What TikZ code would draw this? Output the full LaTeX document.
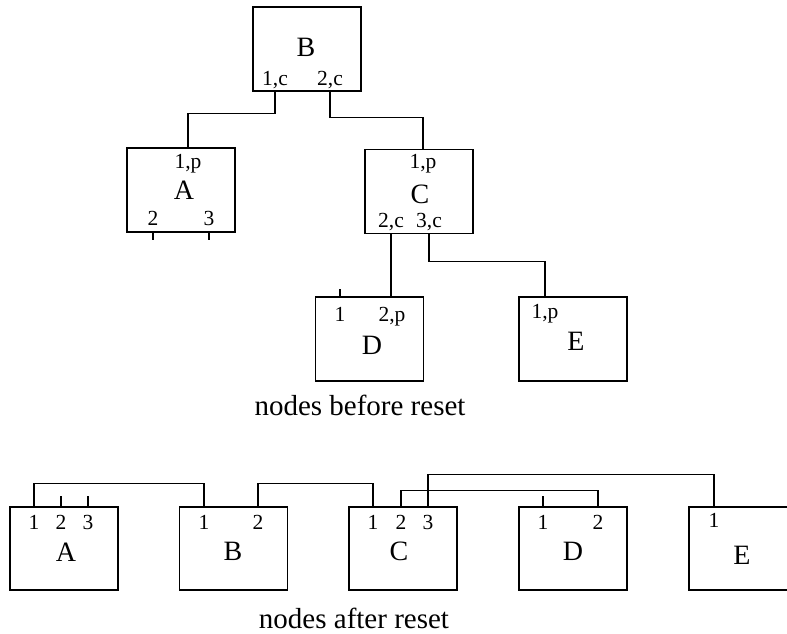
\documentclass[tikz,border=0pt]{standalone}
\usepackage{fontspec}
\setmainfont{Liberation Serif}
\begin{document}
\begin{tikzpicture}[x=1pt,y=-1pt,
  box/.style={draw,line width=1.4pt,minimum width=108pt,minimum height=84pt,inner sep=0pt},
  big/.style={anchor=base,inner sep=0pt,font=\fontsize{28}{28}\selectfont},
  small/.style={anchor=base,inner sep=0pt,font=\fontsize{21.5}{21.5}\selectfont},
  caption/.style={anchor=base,inner sep=0pt,font=\fontsize{29}{29}\selectfont},
  wire/.style={line width=1.4pt}]
\useasboundingbox (0,0) rectangle (787,634);
\clip (0,0) rectangle (787,634);
\fill[white] (0,0) rectangle (787,634);

% ---- tree before reset ----
\node[box] (tB) at (307,49) {};
\node[big] at (306,57) {B};
\node[small] (tB1) at (275,85) {1,c};
\node[small] (tB2) at (330,85) {2,c};

\node[box] (tA) at (181,190) {};
\node[big] at (184,199) {A};
\node[small] (tA1) at (188,168) {1,p};
\node[small] (tA2) at (153,225) {2};
\node[small] (tA3) at (209,225) {3};

\node[box] (tC) at (419,191.5) {};
\node[big] at (420,203) {C};
\node[small] (tC1) at (423,168) {1,p};
\node[small] (tC2) at (391,227) {2,c};
\node[small] (tC3) at (429,227) {3,c};

\node[box] (tD) at (369.5,339) {};
\node[big] at (372,354) {D};
\node[small] (tD1) at (340,321) {1};
\node[small] (tD2) at (392,321) {2,p};

\node[box] (tE) at (573,339) {};
\node[big] at (576,350) {E};
\node[small] (tE1) at (545,318) {1,p};

\node[caption] (cap1) at (360,415) {nodes before reset};

\draw[wire] (tB1 |- tB.south) -- ++(0,22) -| (tA1 |- tA.north);
\draw[wire] (tB2 |- tB.south) -- ++(0,26) -| (tC1 |- tC.north);
\draw[wire] (tC2 |- tC.south) -- (tC2 |- tD.north);
\draw[wire] (tC3 |- tC.south) -- ++(0,27) -| (tE1 |- tE.north);
\draw[wire] (tA2 |- tA.south) -- ++(0,7);
\draw[wire] (tA3 |- tA.south) -- ++(0,7);
\draw[wire] (tD1 |- tD.north) -- ++(0,-7);

% ---- nodes after reset ----
\node[box,minimum height=83pt] (bA) at (64,548.5) {};
\node[big] at (66,561) {A};
\node[small] (bA1) at (34,529) {1};
\node[small] (bA2) at (61,529) {2};
\node[small] (bA3) at (88,529) {3};

\node[box,minimum height=83pt] (bB) at (233.5,548.5) {};
\node[big] at (233,560) {B};
\node[small] (bB1) at (204,529) {1};
\node[small] (bB2) at (258,529) {2};

\node[box,minimum height=83pt] (bC) at (403,548.5) {};
\node[big] at (399,560) {C};
\node[small] (bC1) at (373,529) {1};
\node[small] (bC2) at (401,529) {2};
\node[small] (bC3) at (428,529) {3};

\node[box,minimum height=83pt] (bD) at (573,548.5) {};
\node[big] at (573,560) {D};
\node[small] (bD1) at (543,529) {1};
\node[small] (bD2) at (598,529) {2};

\node[box,minimum height=83pt] (bE) at (743,548.5) {};
\node[big] at (742,564) {E};
\node[small] (bE1) at (714,527) {1};

\node[caption] (cap2) at (354,628) {nodes after reset};

\draw[wire] (bA1 |- bA.north) -- ++(0,-23) -| (bB1 |- bB.north);
\draw[wire] (bB2 |- bB.north) -- ++(0,-23) -| (bC1 |- bC.north);
\draw[wire] (bC2 |- bC.north) -- ++(0,-16) -| (bD2 |- bD.north);
\draw[wire] (bC3 |- bC.north) -- ++(0,-32) -| (bE1 |- bE.north);
\draw[wire] (bA2 |- bA.north) -- ++(0,-10);
\draw[wire] (bA3 |- bA.north) -- ++(0,-10);
\draw[wire] (bD1 |- bD.north) -- ++(0,-10);
\end{tikzpicture}
\end{document}
